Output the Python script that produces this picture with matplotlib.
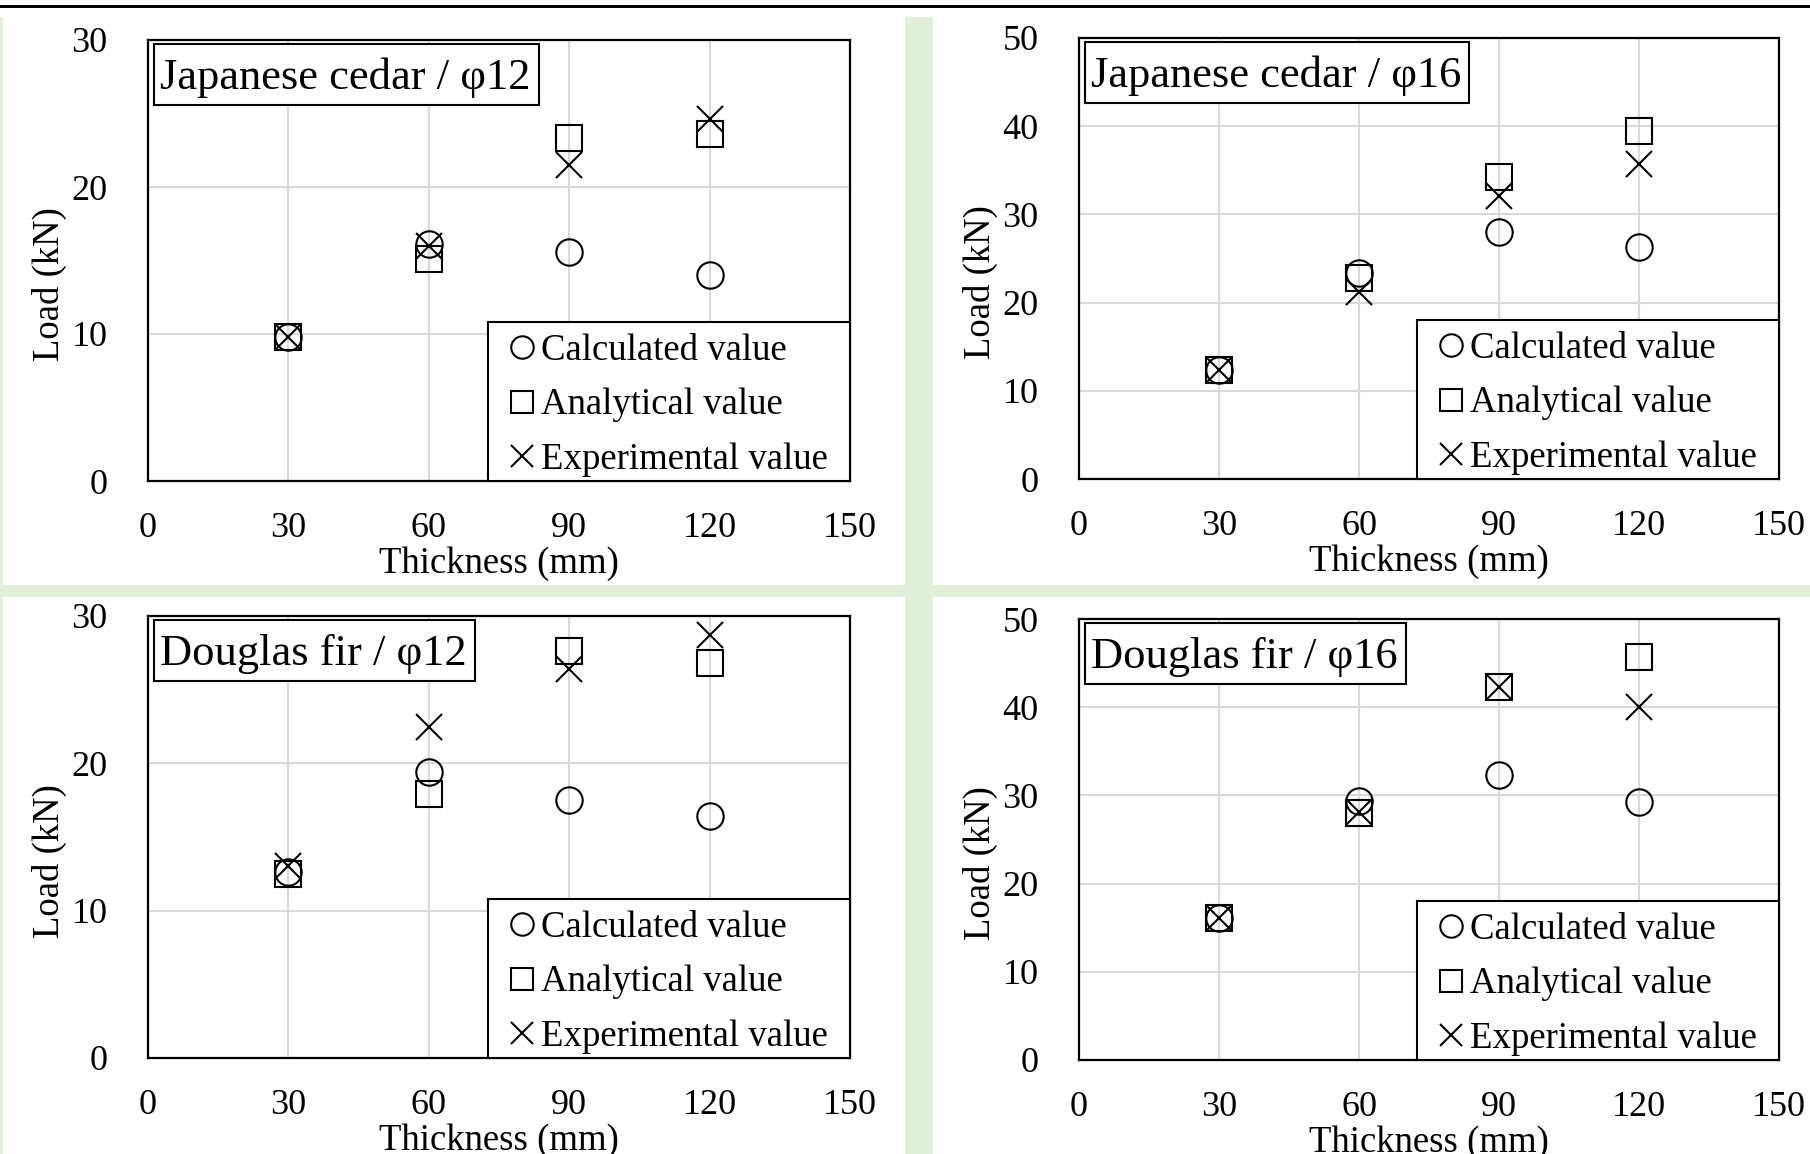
"""Load vs. thickness for two wood species and two bolt diameters (2x2 panels)."""
import matplotlib.pyplot as plt
from matplotlib.patches import Rectangle

plt.rcParams['font.family'] = ['Liberation Serif', 'DejaVu Serif']

thickness = [30, 60, 90, 120]
series_names = ['Calculated value', 'Analytical value', 'Experimental value']

cedar12_calc = [9.8, 16.1, 15.6, 14.0]
cedar12_anal = [9.8, 15.1, 23.3, 23.6]
cedar12_exp = [9.8, 16.0, 21.5, 24.6]

cedar16_calc = [12.4, 23.3, 28.0, 26.3]
cedar16_anal = [12.4, 22.8, 34.2, 39.4]
cedar16_exp = [12.4, 21.2, 32.1, 35.7]

fir12_calc = [12.6, 19.4, 17.5, 16.4]
fir12_anal = [12.5, 17.9, 27.6, 26.8]
fir12_exp = [13.0, 22.5, 26.4, 28.7]

fir16_calc = [16.1, 29.4, 32.3, 29.3]
fir16_anal = [16.1, 28.0, 42.3, 45.7]
fir16_exp = [16.1, 28.1, 42.3, 40.0]

panel_titles = ['Japanese cedar / φ12', 'Japanese cedar / φ16',
                'Douglas fir / φ12', 'Douglas fir / φ16']
panel_ymax = [30, 50, 30, 50]
panel_data = [
    (cedar12_calc, cedar12_anal, cedar12_exp),
    (cedar16_calc, cedar16_anal, cedar16_exp),
    (fir12_calc, fir12_anal, fir12_exp),
    (fir16_calc, fir16_anal, fir16_exp),
]

W, H = 1810, 1154
GREEN = '#e2efda'

# axes boxes in pixels: left, top, right, bottom
boxes = [(148, 40, 850, 481), (1079, 38, 1779, 479),
         (148, 616, 850, 1058), (1079, 619, 1779, 1060)]
LEG_W, LEG_H = 362, 159  # legend box size in pixels

fig = plt.figure(figsize=(W / 100, H / 100), dpi=100, facecolor='white')
renderer = fig.canvas.get_renderer()


def fig_rect(x0, y0, x1, y1, **kw):
    fig.patches.append(Rectangle((x0 / W, 1 - y1 / H), (x1 - x0) / W, (y1 - y0) / H,
                                 transform=fig.transFigure, **kw))


# green separators between the four panels, black rule at the top
fig_rect(0, 17, 3, H, color=GREEN, lw=0)
fig_rect(905, 17, 933, H, color=GREEN, lw=0)
fig_rect(0, 585, W, 597, color=GREEN, lw=0)
fig_rect(0, 4.5, W, 7.5, color='black', lw=0)

markers = ['o', 's', 'x']

for (l, t, r, b), title, ymax, data in zip(boxes, panel_titles, panel_ymax, panel_data):
    aw, ah = r - l, b - t
    ax = fig.add_axes([l / W, 1 - b / H, aw / W, ah / H])
    for vals, mk, name in zip(data, markers, series_names):
        ax.plot(thickness, vals, linestyle='none', marker=mk, markersize=19,
                markerfacecolor='none', markeredgecolor='black', markeredgewidth=1.5,
                color='black', label=name)

    ax.set_xlim(0, 150)
    ax.set_ylim(0, ymax)
    ax.set_xticks(range(0, 151, 30))
    ax.set_yticks(range(0, ymax + 1, 10))
    ax.tick_params(length=0, labelsize=26)
    ax.tick_params(axis='y', pad=29)
    ax.tick_params(axis='x', pad=22)
    ax.grid(color='#d9d9d9', linewidth=1.5)
    ax.set_axisbelow(True)
    for sp in ax.spines.values():
        sp.set_linewidth(1.6)
        sp.set_color('black')

    ax.set_xlabel('Thickness (mm)', fontsize=26.5, labelpad=1)
    ax.set_ylabel('Load (kN)', fontsize=26.5)
    ax.yaxis.set_label_coords(-81 / aw, 0.5 - 24 / ah)

    # panel title in a framed box at the upper left, box sized to the text
    txt = ax.text(12 / aw, 1 - 49 / ah, title, transform=ax.transAxes,
                  ha='left', va='baseline', fontsize=32, zorder=6)
    tw = txt.get_window_extent(renderer).width
    ax.add_patch(Rectangle((6 / aw, 1 - 65 / ah), (tw + 14) / aw, 61 / ah,
                           transform=ax.transAxes, facecolor='white',
                           edgecolor='black', linewidth=1.5, zorder=5))

    # legend frame drawn by hand so its size matches the original box
    ax.add_patch(Rectangle((1 - LEG_W / aw, 0), LEG_W / aw, LEG_H / ah,
                           transform=ax.transAxes, facecolor='white',
                           edgecolor='black', linewidth=1.5, zorder=4, clip_on=False))
    leg = ax.legend(loc='upper left', bbox_to_anchor=(1 - 343 / aw, 147.4 / ah),
                    borderaxespad=0, borderpad=0, frameon=False,
                    fontsize=26.5, handlelength=0.8, handletextpad=0.12,
                    labelspacing=0.54, markerscale=0.85)
    leg.set_zorder(5)

fig.savefig('out.png', dpi=100, facecolor='white')
